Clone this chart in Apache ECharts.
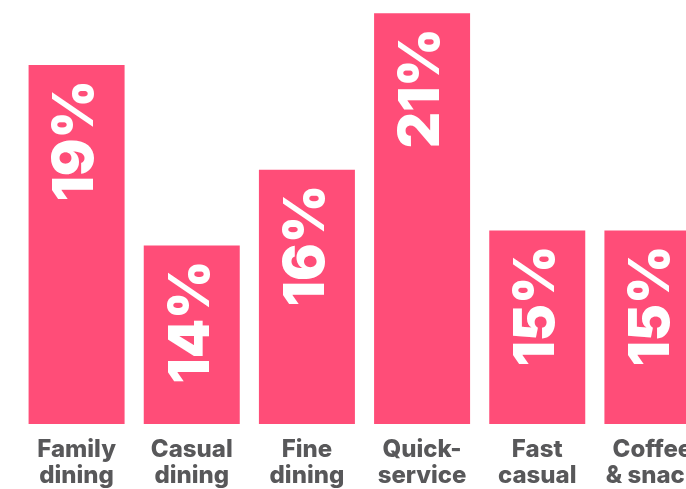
<!DOCTYPE html>
<html>
<head>
<meta charset="utf-8">
<script src="https://cdn.jsdelivr.net/npm/echarts@6/dist/echarts.min.js"></script>
<style>html,body{margin:0;padding:0;background:#fff;overflow:hidden;width:686px;height:489px;}#c{width:710px;height:489px;}</style>
</head>
<body>
<div id="c"></div>
<script>
const categories = ["Family\ndining", "Casual\ndining", "Fine\ndining", "Quick-\nservice", "Fast\ncasual", "Coffee\n& snack"];
const shares = [19.25, 14.22, 16.33, 20.69, 14.64, 14.64];

const chart = echarts.init(document.getElementById('c'), null, {renderer: 'canvas'});
chart.setOption({
  animation: false,
  grid: {left: 19, right: 0, top: 0, bottom: 64},
  xAxis: {
    type: 'category',
    data: categories,
    axisLine: {show: false},
    axisTick: {show: false},
    axisLabel: {
      interval: 0,
      margin: 13,
      color: '#58585a',
      fontFamily: 'Inter',
      fontWeight: 800,
      fontSize: 24,
      lineHeight: 26
    }
  },
  yAxis: {
    type: 'value',
    min: 9.25,
    max: 21.06,
    show: false,
    splitLine: {show: false}
  },
  series: [{
    type: 'bar',
    data: shares,
    barWidth: 96,
    itemStyle: {color: '#FF4D78'},
    label: {
      show: true,
      position: 'insideTop',
      distance: 15,
      rotate: 90,
      align: 'right',
      verticalAlign: 'middle',
      color: '#fff',
      fontFamily: 'Inter',
      fontWeight: 900,
      fontSize: 56,
      formatter: p => Math.round(p.value) + '%'
    }
  }]
});
</script>
</body>
</html>
